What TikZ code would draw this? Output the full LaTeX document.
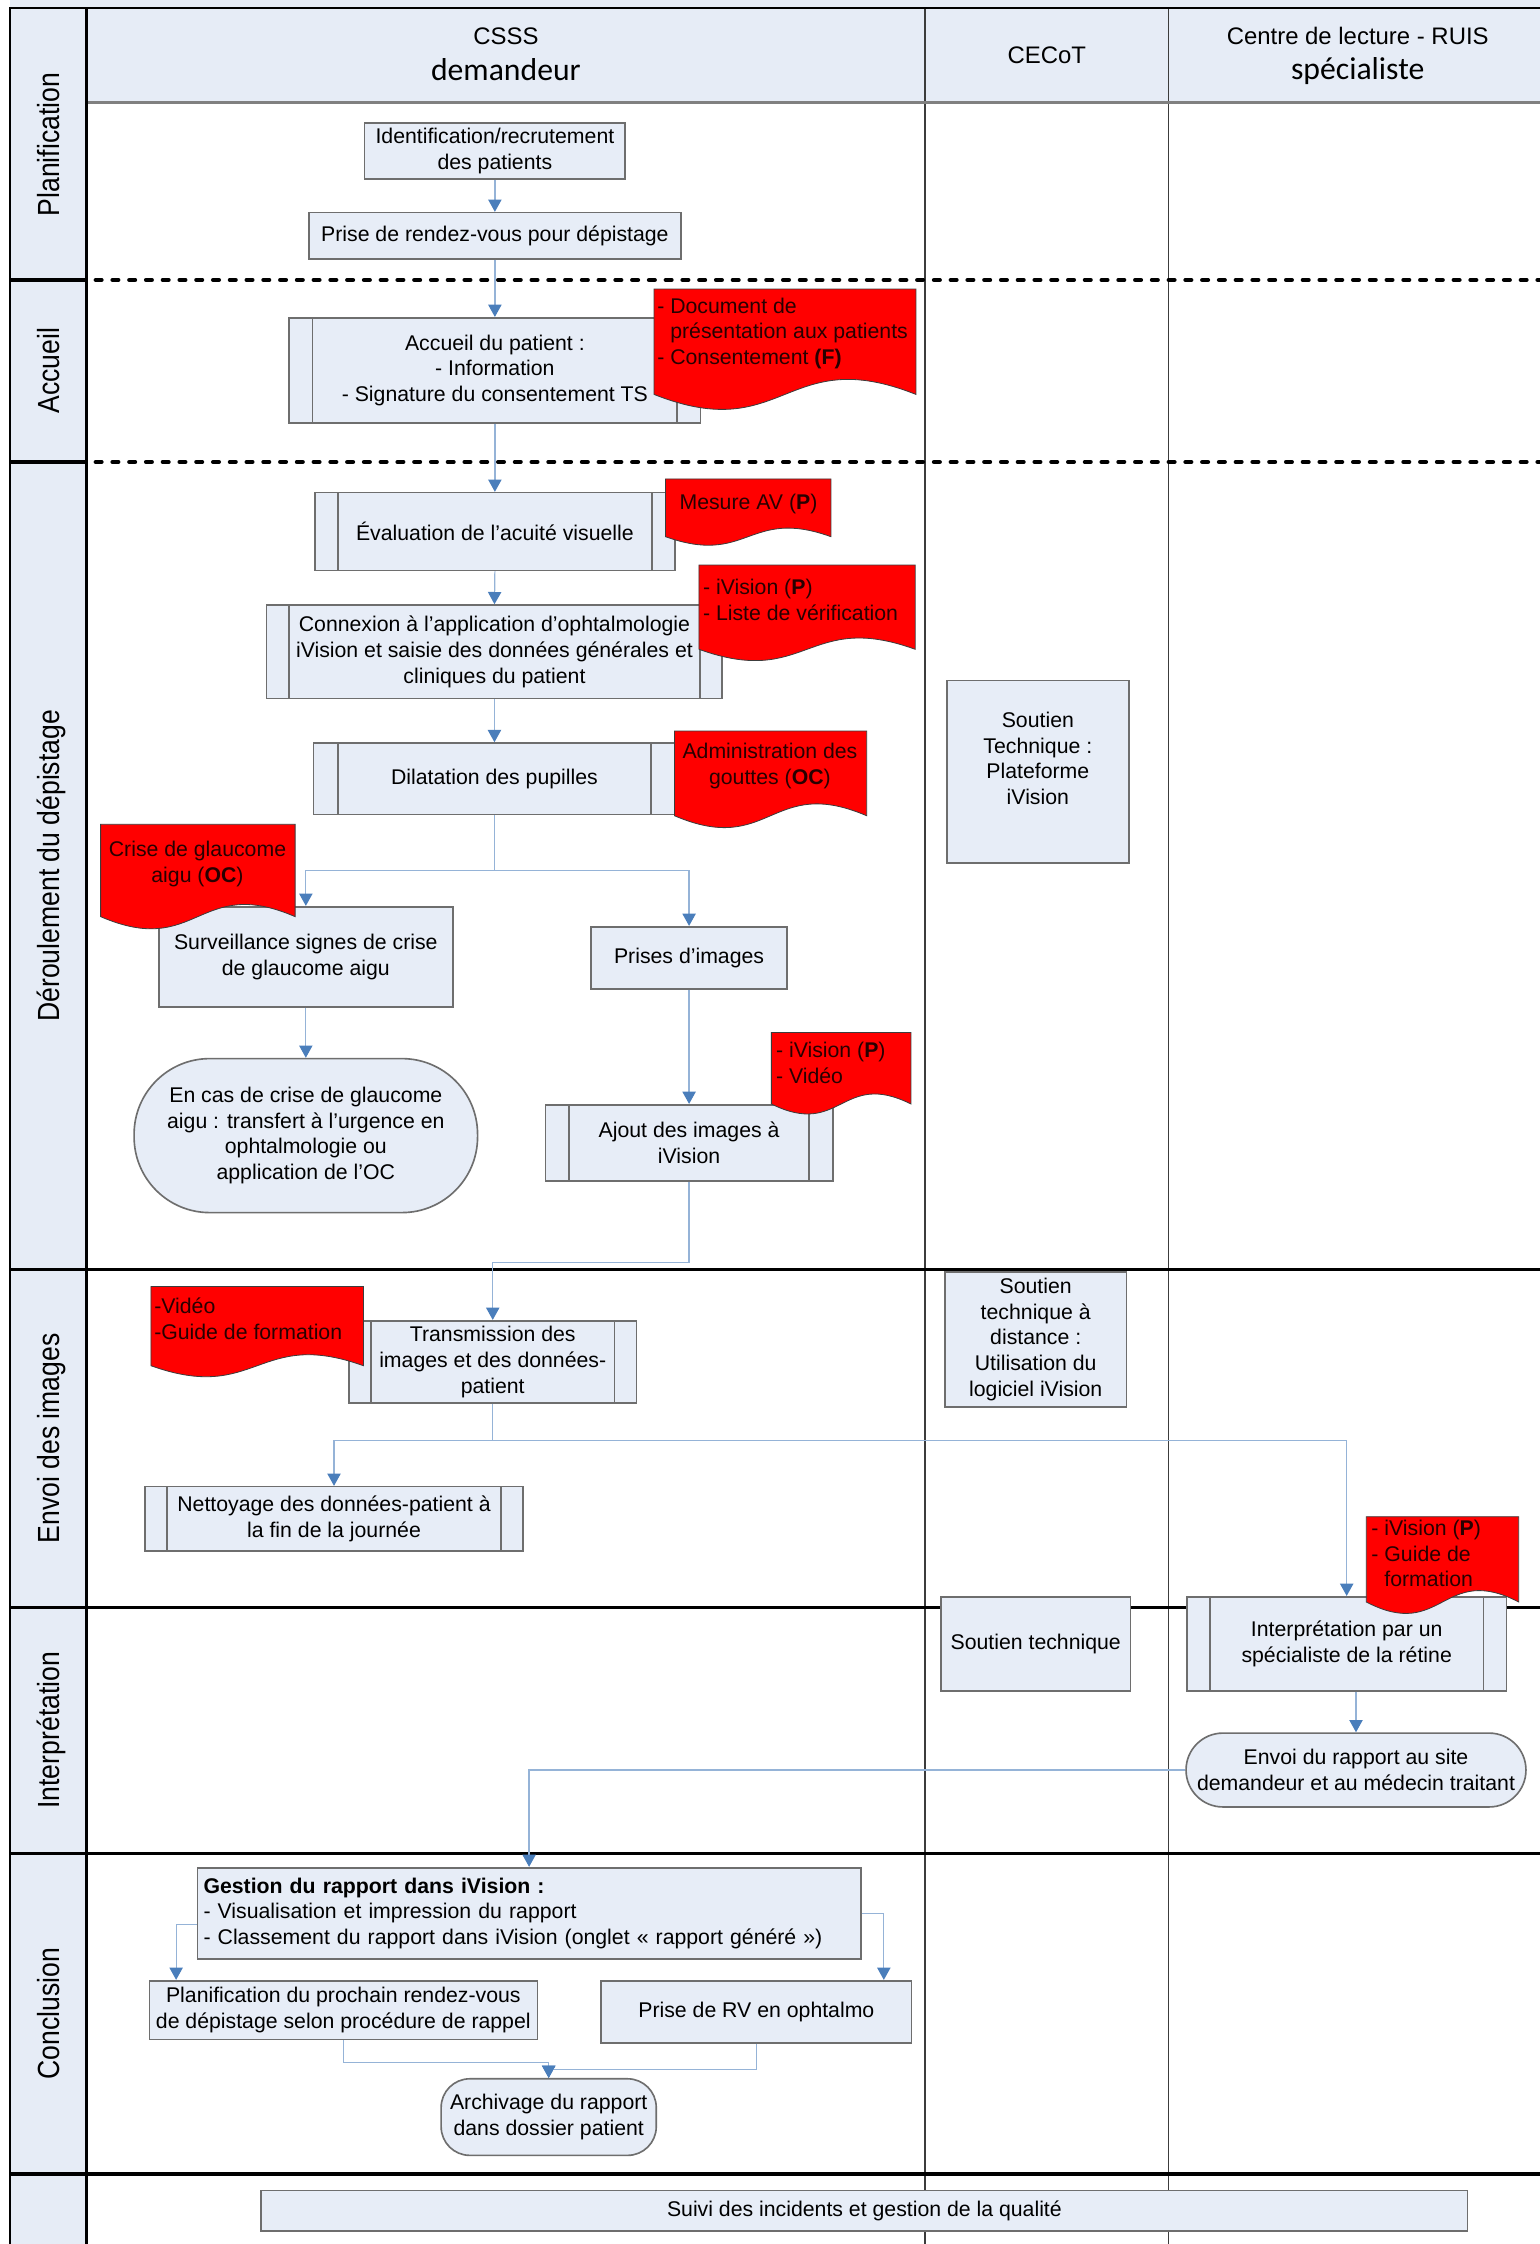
\documentclass[tikz,border=0pt]{standalone}
\usepackage{graphicx}
\usepackage{fontspec}
\setmainfont{Liberation Sans}
\newfontfamily\calibrifont{Carlito}
\usetikzlibrary{arrows.meta}
\definecolor{lanefill}{RGB}{230,236,246}
\definecolor{boxfill}{RGB}{231,237,247}
\definecolor{boxline}{RGB}{110,110,110}
\definecolor{connline}{RGB}{149,179,215}
\definecolor{arrowblue}{RGB}{74,126,187}
\definecolor{docred}{RGB}{255,0,0}
\definecolor{doctextcol}{RGB}{40,0,0}
\definecolor{sepline}{RGB}{60,60,60}
\definecolor{headline}{RGB}{128,128,128}
\newcommand{\docshape}[5]{%
  \filldraw[fill=docred, draw=sepline, line width=0.4pt] (#1,#2) -- (#3,#2) -- (#3,#4)
    .. controls ({(#1+#3)/2},{#4-3.46*#5}) and ({(#1+#3)/2},{#4+3.46*#5}) .. (#1,#4) -- cycle;}
\newcommand{\dashind}{\hphantom{-~}}
\begin{document}
\begin{tikzpicture}[x=0.7pt, y=-0.7pt,
  boxfont/.style={font=\fontsize{10.4}{12.6}\selectfont},
  box/.style={draw=boxline, line width=0.8pt, fill=boxfill, inner sep=1pt, align=center, boxfont},
  wh/.style 2 args={minimum width=#1*0.7pt, minimum height=#2*0.7pt},
  proc/.style={box, path picture={\draw[boxline, line width=0.8pt]
      ([xshift=#1]path picture bounding box.north west) -- ([xshift=#1]path picture bounding box.south west)
      ([xshift=-#1]path picture bounding box.north east) -- ([xshift=-#1]path picture bounding box.south east);}},
  proc/.default=11pt,
  term/.style={box, rounded corners=#1},
  conn/.style={draw=connline, line width=0.6pt, -{Triangle[length=6pt,width=6.5pt,color=arrowblue]}},
  connplain/.style={draw=connline, line width=0.6pt},
  doctext/.style={inner sep=0pt, boxfont, text=doctextcol},
  lanelabel/.style={rotate=90, anchor=base, font=\fontsize{13}{15}\selectfont},
  thickline/.style={line width=1.6pt, draw=black},
  dotline/.style={draw=black, line width=2pt, line cap=round, dash pattern=on 2.9pt off 5.3pt, dash phase=-2pt},
]
\useasboundingbox (0,0) rectangle (1076,1568);
\fill[white] (0,0) rectangle (1076,1568);
% fills
\fill[lanefill] (7,0) rectangle (1076,5.6);
\fill[lanefill] (7,5.6) rectangle (60.6,1568);
\fill[lanefill] (60.6,5.6) rectangle (1076,71.7);
% column separators
\draw[sepline, line width=0.6pt] (646.4,5.6) -- (646.4,1568);
\draw[sepline, line width=0.6pt] (816.6,5.6) -- (816.6,1568);
% header bottom
\draw[headline, line width=1.1pt] (60.6,71.7) -- (1076,71.7);
% lane lines
\draw[thickline] (7,195.6) -- (60.6,195.6);
\draw[thickline] (7,322.8) -- (60.6,322.8);
\draw[dotline] (64,195.6) -- (1076,195.6);
\draw[dotline] (64,322.8) -- (1076,322.8);
\draw[thickline] (7,887) -- (1076,887);
\draw[thickline] (7,1123) -- (1076,1123);
\draw[thickline] (7,1295) -- (1076,1295);
\draw[thickline] (7,1519) -- (1076,1519);
% verticals and top
\draw[black, line width=1.4pt] (7,4.9) -- (7,1568);
\draw[black, line width=1.4pt] (60.6,5.6) -- (60.6,1568);
\draw[black, line width=1.1pt] (6.3,5.6) -- (1076,5.6);
% lane labels
\node[lanelabel] (lpl) at (41.7,101) {\scalebox{1}[1.15]{Planification}};
\node[lanelabel] (lac) at (41.7,259) {\scalebox{1}[1.15]{Accueil}};
\node[lanelabel] (lde) at (41.7,605) {\scalebox{1}[1.15]{Déroulement du dépistage}};
\node[lanelabel] (len) at (41.7,1005) {\scalebox{1}[1.15]{Envoi des images}};
\node[lanelabel] (lin) at (41.7,1209) {\scalebox{1}[1.15]{Interprétation}};
\node[lanelabel] (lco) at (41.7,1407) {\scalebox{1}[1.15]{Conclusion}};
% headers
\node[anchor=base, inner sep=0pt, font=\fontsize{11.7}{14}\selectfont] (h1a) at (353.5,30.8) {CSSS};
\node[anchor=base, inner sep=0pt, font=\calibrifont\fontsize{15.5}{18}\selectfont] (h1b) at (353.5,56) {demandeur};
\node[anchor=base, inner sep=0pt, font=\fontsize{11.7}{14}\selectfont] (h2) at (731.5,44.3) {CECoT};
\node[anchor=base, inner sep=0pt, font=\fontsize{11.7}{14}\selectfont] (h3a) at (948.7,30.8) {Centre de lecture - RUIS};
\node[anchor=base, inner sep=0pt, font=\calibrifont\fontsize{15.5}{18}\selectfont] (h3b) at (948.7,55.5) {spécialiste};

% boxes
\node[box, wh={182}{39.4}] (N1) at (345.8,105.5) {Identification/recrutement\\des patients};
\node[box, wh={260}{32.2}] (N2) at (345.8,164.7) {Prise de rendez-vous pour dépistage};
\node[proc=11.5pt, wh={287.5}{73.5}] (N3) at (345.8,258.8) {Accueil du patient :\\- Information\\- Signature du consentement TS};
\node[proc=11.2pt, wh={251.5}{54.5}] (N4) at (345.8,371.5) {Évaluation de l’acuité visuelle};
\node[proc=11pt, wh={318.4}{65.4}] (N5) at (345.5,455.5) {Connexion à l’application d’ophtalmologie\\iVision et saisie des données générales et\\cliniques du patient};
\node[proc=11.9pt, wh={252.8}{50}] (N6) at (345.5,544.2) {Dilatation des pupilles};
\node[box, wh={205.3}{70.1}] (N7) at (213.7,668.6) {Surveillance signes de crise\\de glaucome aigu};
\node[box, wh={136.7}{43.5}] (N8) at (481.5,669.3) {Prises d’images};
\node[term=37pt, wh={240}{107.6}] (N9) at (213.7,793.5) {En cas de crise de glaucome\\aigu : transfert à l’urgence en\\ophtalmologie ou\\application de l’OC};
\node[proc=11.5pt, wh={200.7}{53.1}] (N10) at (481.5,798.5) {Ajout des images à\\iVision};
\node[proc=10.7pt, wh={200.8}{57.5}] (N11) at (344.3,951.6) {Transmission des\\images et des données-\\patient};
\node[proc=10.7pt, wh={264.3}{45}] (N12) at (233.4,1061.3) {Nettoyage des données-patient à\\la fin de la journée};
\node[box, wh={127.4}{127.2}] (N13) at (725.2,539.2) {};
\node[boxfont, align=center, inner sep=0pt] (N13t) at (725.2,530) {Soutien\\Technique :\\Plateforme\\iVision};
\node[box, wh={127}{94.3}] (N14) at (723.7,935.9) {Soutien\\technique à\\distance :\\Utilisation du\\logiciel iVision};
\node[box, wh={132.3}{65.8}] (N15) at (723.7,1148.6) {Soutien technique};
\node[proc=11.2pt, wh={223.2}{65.8}] (N16) at (941,1148.6) {Interprétation par un\\spécialiste de la rétine};
\node[term=18pt, wh={237.5}{51.6}] (N17) at (947.5,1236.8) {Envoi du rapport au site\\demandeur et au médecin traitant};
\node[box, wh={463.4}{63.9}, align=left, text width=455*0.7pt, inner xsep=2pt] (N18) at (369.7,1337) {\textbf{Gestion du rapport dans iVision :}\\- Visualisation et impression du rapport\\- Classement du rapport dans iVision (onglet « rapport généré »)};
\node[box, wh={271.1}{41}] (N19) at (239.9,1404.5) {Planification du prochain rendez-vous\\de dépistage selon procédure de rappel};
\node[box, wh={217}{43.6}] (N20) at (528.5,1405.8) {Prise de RV en ophtalmo};
\node[term=14pt, wh={150.3}{53.5}] (N21) at (383.4,1479.3) {Archivage du rapport\\dans dossier patient};
\node[box, wh={842.9}{28.5}] (N22) at (604,1544.8) {Suivi des incidents et gestion de la qualité};

% connectors
\coordinate (sp1) at (345.5,608.4);
\coordinate (bd1) at (481.5,882.3);
\coordinate (sp2) at (344.3,1006.6);
\draw[conn] (N1.south) -- (N2.north);
\draw[conn] (N2.south) -- (N3.north);
\draw[conn] (N3.south) -- (N4.north);
\draw[conn] (N4.south) -- (N5.north);
\draw[conn] (N5.south) -- (N6.north);
\draw[connplain] (N6.south) -- (sp1);
\draw[conn] (sp1) -| (N7.north);
\draw[conn] (sp1) -| (N8.north);
\draw[conn] (N7.south) -- (N9.north);
\draw[conn] (N8.south) -- (N10.north);
\draw[connplain] (N10.south) -- (bd1);
\draw[conn] (bd1) -| (N11.north);
\draw[connplain] (N11.south) -- (sp2);
\draw[conn] (sp2) -| (N12.north);
\draw[conn] (sp2) -| (N16.north);
\draw[conn] (N16.south -| N17.north) -- (N17.north);
\draw[conn] (N17.west) -| (N18.north);
\draw[conn] ([yshift=-5.4pt]N18.west) -| ([xshift=13.5pt]N19.north west);
\draw[conn] (N18.east) -| ([xshift=-14pt]N20.north east);
\draw[conn] (N19.south) -- ++(0,15.5) -| (N21.north);
\draw[conn] (N20.south) -- ++(0,17.9) -| (N21.north);

% documents
\docshape{457}{202}{640}{275.6}{10.5}
\node[doctext, anchor=west, align=left] (D1) at (459,233) {- Document de\\\dashind présentation aux patients\\- Consentement \textbf{(F)}};
\docshape{465}{334.7}{580.6}{375}{6}
\node[doctext, align=center] (D2) at (523,352) {Mesure AV (\textbf{P})};
\docshape{488.4}{394.8}{639.5}{453.7}{7.9}
\node[doctext, anchor=west, align=left] (D3) at (491,419) {- iVision (\textbf{P})\\- Liste de vérification};
\docshape{471.3}{510.8}{605.6}{570}{8.3}
\node[doctext, align=center] (D4) at (538,535) {Administration des\\gouttes (\textbf{OC})};
\docshape{70.3}{576}{206.2}{640.5}{8.5}
\node[doctext, align=center] (D5) at (138,603.5) {Crise de glaucome\\aigu (\textbf{OC})};
\docshape{539}{721.5}{636.5}{771.4}{7}
\node[doctext, anchor=west, align=left] (D6) at (542,742.5) {- iVision (\textbf{P})\\- Vidéo};
\docshape{105.5}{899}{254}{954.3}{7.7}
\node[doctext, anchor=west, align=left] (D7) at (107.5,921.5) {-Vidéo\\-Guide de formation};
\docshape{954.7}{1059.8}{1061.2}{1119.4}{8}
\node[doctext, anchor=west, align=left] (D8) at (958,1085.5) {- iVision (\textbf{P})\\- Guide de\\\dashind formation};
\end{tikzpicture}
\end{document}
